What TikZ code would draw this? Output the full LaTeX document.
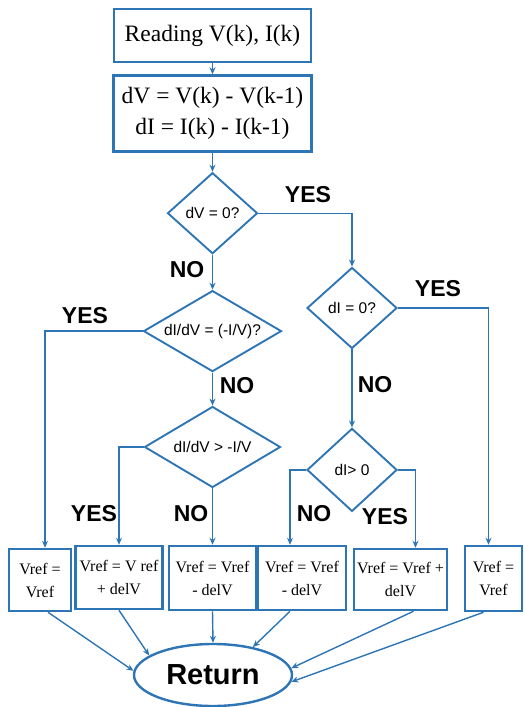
\documentclass[tikz,border=0pt]{standalone}
\usepackage{fontspec}
\setmainfont{Liberation Serif}
\setsansfont{Liberation Sans}
\usepackage{tikz}
\usetikzlibrary{positioning, shapes, arrows.meta}
\definecolor{flowblue}{RGB}{46,117,182}

\begin{document}
\begin{tikzpicture}[x=1pt, y=-1pt,
	box/.style={rectangle, draw=flowblue, line width=2.5pt, align=center, inner sep=1pt, font=\fontsize{16}{23}\selectfont},
	cond/.style={diamond, draw=flowblue, line width=1.9pt, inner sep=0pt, font=\sffamily\fontsize{15.5}{17}\selectfont},
	lbl/.style={font=\sffamily\bfseries\fontsize{23}{25}\selectfont, inner sep=0pt},
	arr/.style={draw=flowblue, line width=1.4pt, -{Stealth[length=7pt, width=6pt]}}]
	\useasboundingbox (0,0) rectangle (524,707);

	% Lettura e differenze
	\node[box, minimum width=197pt, minimum height=53pt, font=\fontsize{23.5}{27}\selectfont] (read) at (212.5,35.5) {Reading V(k), I(k)};
	\node[box, below=11pt of read, minimum width=198pt, minimum height=76pt, font=\fontsize{23.5}{31}\selectfont] (diff) {dV = V(k) - V(k-1)\\ dI = I(k) - I(k-1)};

	% Decisioni ramo sinistro
	\node[cond, below=19pt of diff, minimum width=90pt, minimum height=81pt, aspect=1.11] (dv0) {dV = 0?};
	\node[cond, below=35pt of dv0, minimum width=138pt, minimum height=81pt, aspect=1.7] (slope) {dI/dV = (-I/V)?};
	\node[cond, below=33pt of slope, minimum width=136pt, minimum height=81pt, aspect=1.68] (inc) {dI/dV > -I/V};

	% Decisioni ramo destro
	\node[cond, minimum width=90pt, minimum height=81pt, aspect=1.11] (di0) at (352,308) {dI = 0?};
	\node[cond, below=78pt of di0, minimum width=90pt, minimum height=83pt, aspect=1.08] (dipos) {dI> 0};

	% Aggiornamenti di Vref
	\node[box, minimum width=62pt, minimum height=62pt] (keepA) at (40,580) {Vref =\\ Vref};
	\node[box, minimum width=87pt, minimum height=63pt] (plusA) at (119,577.5) {Vref = V ref\\ + delV};
	\node[box, minimum width=87pt, minimum height=64pt] (minusA) at (212.5,578) {Vref = Vref\\ - delV};
	\node[box, minimum width=88pt, minimum height=64pt] (minusB) at (302,578) {Vref = Vref\\ - delV};
	\node[box, minimum width=93pt, minimum height=61pt] (plusB) at (400.5,579.5) {Vref = Vref +\\ delV};
	\node[box, minimum width=57pt, minimum height=65pt] (keepB) at (493.5,578.5) {Vref =\\ Vref};

	% Fine
	\node[ellipse, draw=flowblue, line width=2.4pt, minimum width=158pt, minimum height=62pt, font=\sffamily\bfseries\fontsize{29}{31}\selectfont] (ret) at (213,675) {Return};

	% Connessioni
	\draw[arr] (read) -- (diff);
	\draw[arr] (diff) -- (dv0);
	\draw[arr] (dv0.east) -| (di0.north);
	\draw[arr] (dv0.south) -- (slope.north);
	\draw[arr] (slope.south) -- (inc.north);
	\draw[arr] (slope.west) -| ([xshift=5pt]keepA.north);
	\draw[arr] (inc.west) -| (plusA.north);
	\draw[arr] (inc.south) -- (minusA.north);
	\draw[arr] (di0.east) -| ([xshift=-5pt]keepB.north);
	\draw[arr] (di0.south) -- (dipos.north);
	\draw[arr] (dipos.west) -| ([xshift=-12pt]minusB.north);
	\draw[arr] (dipos.east) -| ([xshift=15pt]plusB.north);

	% Verso Return
	\draw[arr] ([xshift=8pt]keepA.south) -- (ret.177);
	\draw[arr] (plusA.south) -- (ret.163);
	\draw[arr] (minusA.south) -- (ret.north);
	\draw[arr] ([xshift=-12pt]minusB.south) -- (ret.35);
	\draw[arr] ([xshift=13pt]plusB.south) -- (ret.5);
	\draw[arr] ([xshift=-10pt]keepB.south) -- (ret.-5);

	% Etichette
	\node[lbl] (yesA) at (308,195) {YES};
	\node[lbl] (noA) at (187,270) {NO};
	\node[lbl] (yesB) at (438,289) {YES};
	\node[lbl] (yesC) at (85,316) {YES};
	\node[lbl] (noB) at (237,386) {NO};
	\node[lbl] (noC) at (375,385) {NO};
	\node[lbl] (yesD) at (94,514) {YES};
	\node[lbl] (noD) at (191,514) {NO};
	\node[lbl] (noE) at (314,514) {NO};
	\node[lbl] (yesE) at (385,517) {YES};
\end{tikzpicture}
\end{document}
